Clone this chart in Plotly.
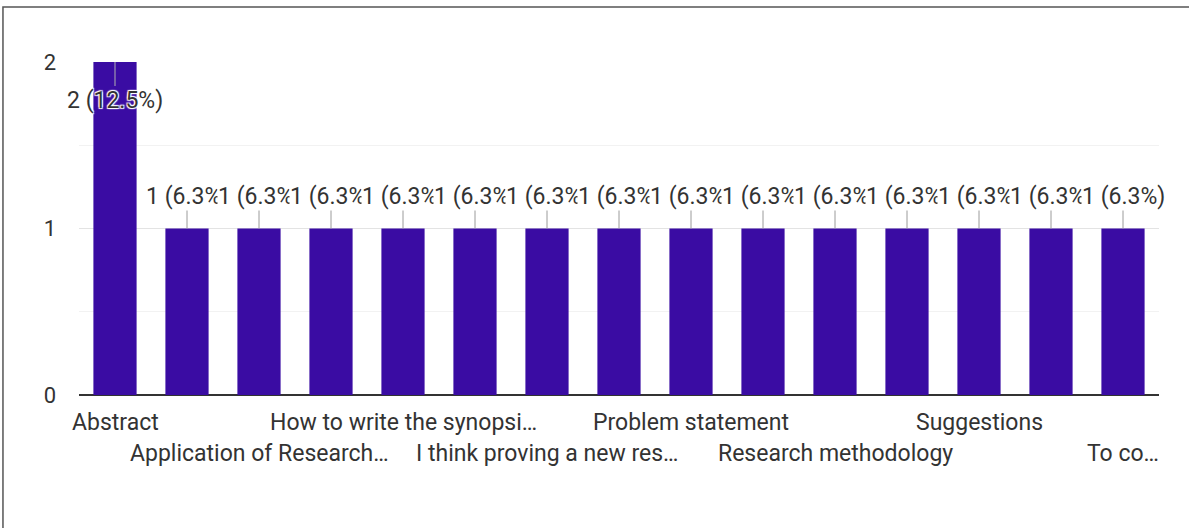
import plotly.graph_objects as go

categories = [
    "Abstract",
    "All of the above",
    "Application of Research…",
    "Data analysis",
    "How to write the synopsi…",
    "Hypothesis",
    "I think proving a new res…",
    "Literature review",
    "Problem statement",
    "References",
    "Research methodology",
    "Results and discussion",
    "Suggestions",
    "Title",
    "To co…",
]
counts = [2, 1, 1, 1, 1, 1, 1, 1, 1, 1, 1, 1, 1, 1, 1]
percents = ["12.5%"] + ["6.3%"] * 14
shown_labels = [0, 2, 4, 6, 8, 10, 12, 14]
y_ticks = [0, 1, 2]

BAR = "#3a0ca3"
TEXT = "#333333"
FONT = "Roboto"
FS = 23

fig = go.Figure()
fig.add_trace(go.Bar(
    x=list(range(len(categories))),
    y=counts,
    marker=dict(color=BAR, line=dict(width=0)),
    hoverinfo="skip",
))

annotations = []
max_count = max(counts)
for i, (c, p) in enumerate(zip(counts, percents)):
    label = f"{c} ({p})"
    if c == max_count:
        annotations.append(dict(
            x=i, y=c, xref="x", yref="y", text=label,
            showarrow=True, arrowhead=0, arrowwidth=1, arrowcolor="#b0b0b0",
            ax=0, ay=38, standoff=0,
            font=dict(family=FONT, size=FS, color=TEXT,
                      shadow="1px 1px 1px white, -1px -1px 1px white, 1px -1px 1px white, -1px 1px 1px white"),
            borderpad=0,
        ))
    else:
        annotations.append(dict(
            x=i, y=c, xref="x", yref="y", text=label,
            showarrow=True, arrowhead=0, arrowwidth=1, arrowcolor="#9a9a9a",
            ax=0, ay=-32, standoff=0,
            font=dict(family=FONT, size=FS, color=TEXT),
            bgcolor="white", borderpad=0,
        ))

for k, i in enumerate(shown_labels):
    annotations.append(dict(
        x=i, y=0, xref="x", yref="paper", text=categories[i],
        showarrow=False, yanchor="middle", xanchor="center",
        yshift=-27 if k % 2 == 0 else -58,
        font=dict(family=FONT, size=FS, color=TEXT),
    ))

fig.update_layout(
    width=1189, height=528,
    margin=dict(l=79, r=30, t=62, b=133),
    paper_bgcolor="white", plot_bgcolor="white",
    showlegend=False,
    bargap=0.4,
    annotations=annotations,
    font=dict(family=FONT, size=FS, color=TEXT),
    shapes=[dict(type="rect", xref="paper", yref="paper",
                 x0=-0.0704, x1=1.3, y0=-0.6, y1=1.165,
                 line=dict(color="#555555", width=1.5), layer="below")],
)
fig.update_xaxes(
    range=[-0.5, len(categories) - 0.5],
    showticklabels=False, showgrid=False, zeroline=False,
    showline=False, ticks="",
)
fig.update_yaxes(
    range=[0, 2], tickvals=y_ticks, ticktext=[str(v) for v in y_ticks],
    showgrid=True, gridcolor="#e3e3e3", gridwidth=1,
    minor=dict(dtick=0.5, showgrid=True, gridcolor="#f2f2f2", gridwidth=1),
    zeroline=True, zerolinecolor="#333333", zerolinewidth=1.5,
    showline=False, ticks="", ticklabelstandoff=22,
    tickfont=dict(family=FONT, size=22, color=TEXT),
)

fig.write_html("out.html", config={"displayModeBar": False},
               post_script="document.body.style.margin='0';")
